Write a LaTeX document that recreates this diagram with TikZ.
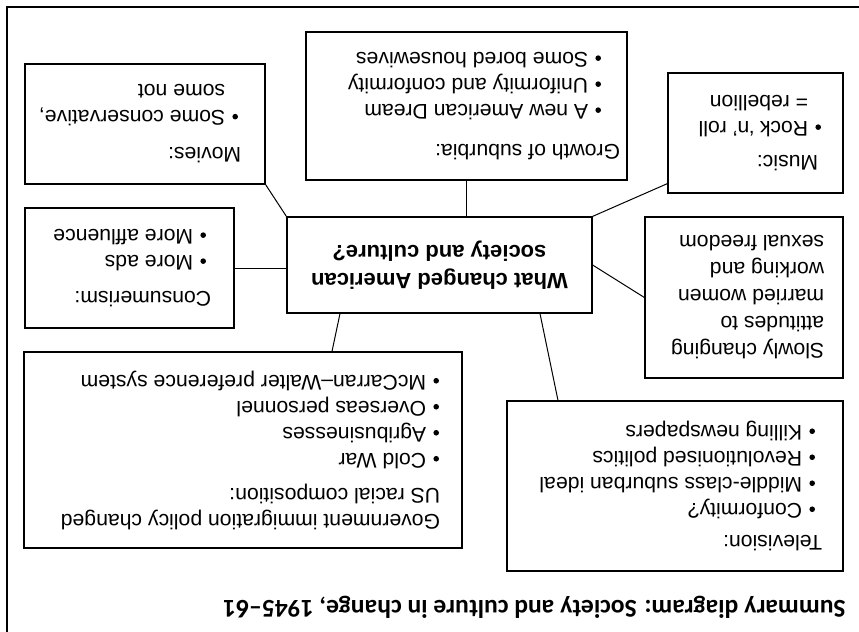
\documentclass[tikz,border=0pt]{standalone}
\usepackage{fontspec}
\setmainfont{Liberation Sans}
\newfontfamily\titlefont{Carlito}
\usepackage{tikz}
\usetikzlibrary{positioning,calc}

% bullet with a fixed indent, continuation lines use \hspace*
\newcommand{\bul}[1]{\makebox[#1][r]{\tikz[baseline=0pt]\fill (0pt,0.27em) circle (1.4pt);\hspace{3.6pt}}}

\tikzset{
    topicbox/.style={draw, line width=0.6pt, inner sep=0pt},
    topictext/.style={rotate=180, align=left, anchor=west, inner ysep=2pt,
        font=\fontsize{10.6pt}{13pt}\selectfont},
    link/.style={line width=0.5pt}
}

\begin{document}
\begin{tikzpicture}[x=0.5pt, y=-0.5pt]
    \useasboundingbox (0,0) rectangle (859,632);

    % Frame (only two sides visible)
    \draw[line width=1.1pt] (7,632) -- (7,7) -- (859,7);

    % Central question
    \node[topicbox, minimum width=152.5pt, minimum height=48pt] (hub) at (439.5,265) {};
    \node[rotate=180, align=center, font=\fontsize{11pt}{14pt}\selectfont\bfseries]
        (hub-t) at (hub.center) {What changed American\\society and culture?};

    % Topic boxes
    \node[topicbox, minimum width=120pt, minimum height=60pt] (movies) at (145,124) {};
    \node[topictext, inner xsep=12pt] (movies-t) at (movies.east)
        {Movies:\\[5.5pt]\bul{8pt}Some conservative,\\\hspace*{8pt}some not};

    \node[topicbox, minimum width=160.5pt, minimum height=74pt] (suburbia) at (466.5,106) {};
    \node[topictext, inner xsep=3.5pt] (suburbia-t) at (suburbia.east)
        {Growth of suburbia:\\[7pt]\bul{16pt}A new American Dream\\\bul{16pt}Uniformity and conformity\\\bul{16pt}Some bored housewives};

    \node[topicbox, minimum width=87.5pt, minimum height=60pt] (music) at (755.5,133) {};
    \node[topictext, inner xsep=12.5pt] (music-t) at (music.east)
        {Music:\\[4pt]\bul{5pt}Rock ‘n’ roll\\\hspace*{5pt}= rebellion};

    \node[topicbox, minimum width=104.5pt, minimum height=60pt] (consumer) at (129.5,268) {};
    \node[topictext, inner xsep=11.5pt] (consumer-t) at (consumer.east)
        {Consumerism:\\[5pt]\bul{9pt}More ads\\\bul{9pt}More affluence};

    \node[topicbox, minimum width=99pt, minimum height=80.5pt] (women) at (744,297.5) {};
    \node[topictext, inner xsep=9.5pt, font=\fontsize{10.6pt}{13.5pt}\selectfont] (women-t) at (women.east)
        {Slowly changing\\attitudes to\\married women\\working and\\sexual freedom};

    \node[topicbox, minimum width=219pt, minimum height=98pt] (immig) at (243,450) {};
    \node[topictext, inner xsep=11pt] (immig-t) at (immig.east)
        {Government immigration policy changed\\US racial composition:\\[4.5pt]\bul{7pt}Cold War\\\bul{7pt}Agribusinesses\\\bul{7pt}Overseas personnel\\\bul{7pt}McCarran–Walter preference system};

    \node[topicbox, minimum width=168pt, minimum height=85pt] (tv) at (675,486) {};
    \node[topictext, inner xsep=10.5pt] (tv-t) at (tv.east)
        {Television:\\[3pt]\bul{10pt}Conformity?\\\bul{10pt}Middle-class suburban ideal\\\bul{10pt}Revolutionised politics\\\bul{10pt}Killing newspapers};

    % Links to the central question
    \draw[link] (movies.south east) -- (hub.north west);
    \draw[link] (consumer.east) -- (consumer.east -| hub.west);
    \draw[link] (suburbia.south) -- (suburbia.south |- hub.north);
    \draw[link] ([yshift=5pt]music.south west) -- (hub.north east);
    \draw[link] (hub.east) -- (women.west);
    \draw[link] ([xshift=50.25pt]hub.south) -- ([xshift=-58.5pt]tv.north);
    \draw[link] ([xshift=-49.75pt]hub.south) -- ([xshift=44.5pt]immig.north);

    % Title
    \node[rotate=180, font=\titlefont\fontsize{12.8pt}{14pt}\selectfont\bfseries]
        (title) at (534.5,607) {Summary diagram: Society and culture in change, 1945–61};
\end{tikzpicture}
\end{document}
